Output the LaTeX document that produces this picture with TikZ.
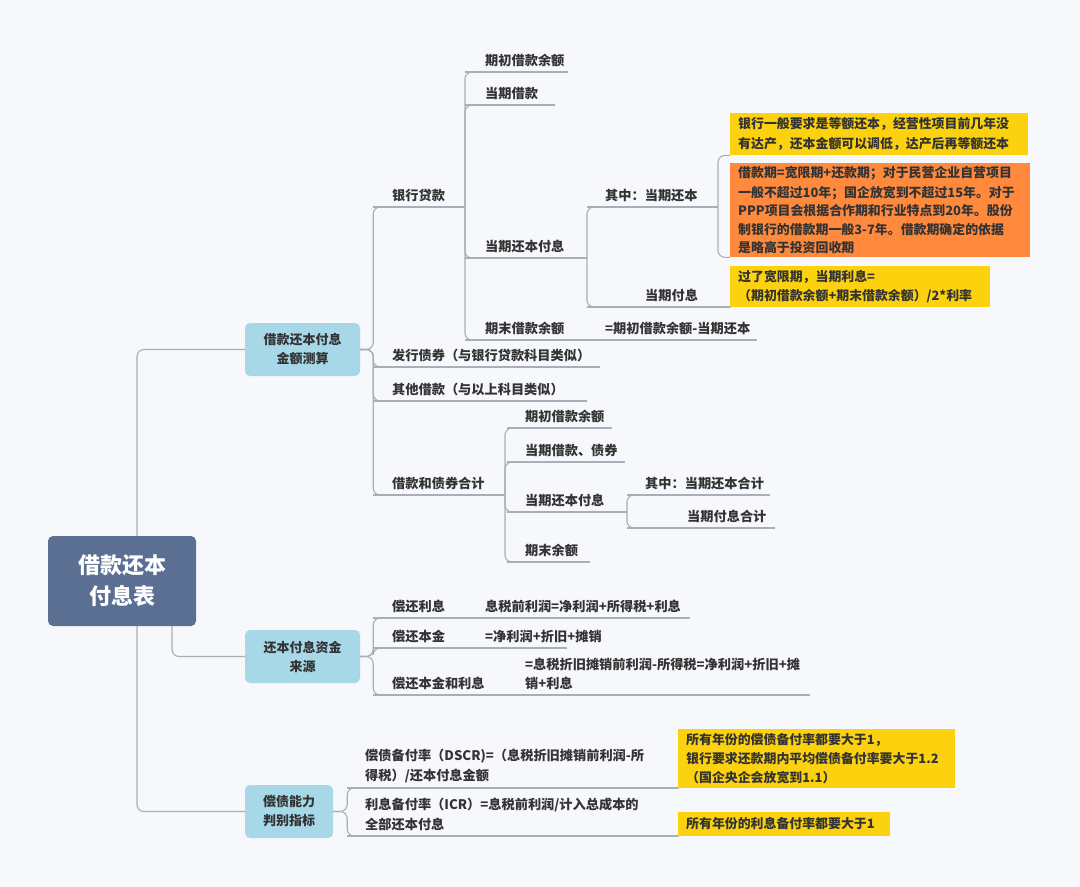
\documentclass[tikz,border=0pt]{standalone}
\usepackage{fontspec}
\setmainfont{Noto Sans CJK SC}
\usetikzlibrary{calc}
\definecolor{bg}{HTML}{F6F8FC}
\definecolor{ln}{HTML}{A8AFB8}
\definecolor{tx}{HTML}{333333}
\definecolor{rootc}{HTML}{5B6F92}
\definecolor{lb}{HTML}{A6D8E8}
\definecolor{yl}{HTML}{FCD20F}
\definecolor{og}{HTML}{FF8A3D}
\tikzset{
  lnk/.style={draw=ln,line width=1.1pt,rounded corners=7pt},
  lbl/.style={anchor=south west,inner sep=0pt,text=tx,font=\fontsize{13.2}{19.5}\selectfont\bfseries,align=left},
  mainbox/.style={fill=lb,rounded corners=5pt,text=tx,font=\fontsize{13}{19}\selectfont\bfseries,align=center,inner sep=0pt},
  note/.style={anchor=north west,inner xsep=8pt,inner ysep=0pt,text=tx,font=\fontsize{12.9}{18.6}\selectfont\bfseries,align=left},
}
\newcommand\tp[6]{%
  \coordinate (#1s) at (#2,#4); \coordinate (#1e) at (#3,#4);
  \draw[lnk] (#1s) -- (#1e);
  \node[lbl] (#1) at (#5,#4-5) {#6};}
\begin{document}
\begin{tikzpicture}[x=1pt,y=-1pt]
\fill[bg] (0,0) rectangle (1080,887);
\useasboundingbox (0,0) rectangle (1080,887);
% root and main boxes
\node[fill=rootc,rounded corners=5pt,minimum width=148pt,minimum height=90pt,text=white,font=\fontsize{22}{31}\selectfont\bfseries,align=center] (root) at (122,581) {借款还本\\付息表};
\node[mainbox,minimum width=115pt,minimum height=53pt] (m1) at (302.5,349.5) {借款还本付息\\金额测算};
\node[mainbox,minimum width=115pt,minimum height=53pt] (m2) at (302.5,656.5) {还本付息资金\\来源};
\node[mainbox,minimum width=88pt,minimum height=53pt] (m3) at (289,811.5) {偿债能力\\判别指标};
\coordinate (rt) at (137,536); \coordinate (rb) at (137,626); \coordinate (rb2) at (172,626);
\draw[lnk] (rt) |- (m1.west);
\draw[lnk] (rb) |- (m3.west);
\draw[lnk] (rb2) |- (m2.west);
% level 2 under m1
\tp{yhdk}{373}{465}{207}{392}{银行贷款}
\tp{fxzq}{373}{600}{367}{392}{发行债券（与银行贷款科目类似）}
\tp{qtjk}{373}{587}{401}{392}{其他借款（与以上科目类似）}
\tp{hj}{373}{505}{495}{392}{借款和债券合计}
\foreach \c in {yhdk,fxzq,qtjk,hj}{\draw[lnk] (m1.east) -- ++(13,0) |- ($(\c s)+(14,0)$);}
% bank loan
\tp{aa}{465}{568}{72}{485}{期初借款余额}
\tp{ab}{465}{555}{105}{485}{当期借款}
\tp{ac}{465}{587}{258}{485}{当期还本付息}
\tp{ad}{465}{590}{340}{485}{期末借款余额}
\tp{adf}{590}{757}{340}{605}{=期初借款余额-当期还本}
\foreach \c in {aa,ab,ac,ad}{\draw[lnk] (yhdke) |- ($(\c s)+(14,0)$);}
\tp{ba}{587}{718}{207}{605}{其中：当期还本}
\tp{bb}{587}{730}{307}{645}{当期付息}
\foreach \c in {ba,bb}{\draw[lnk] (ace) |- ($(\c s)+(14,0)$);}
% notes
\node[note,fill=yl,minimum width=298pt,minimum height=42pt,text width=282pt] (g1) at (730,113) {\vspace{1pt}银行一般要求是等额还本，经营性项目前几年没\\有达产，还本金额可以调低，达产后再等额还本};
\node[note,fill=og,minimum width=300pt,minimum height=94pt,text width=284pt] (g2) at (730,163) {\vspace{1pt}借款期=宽限期+还款期；对于民营企业自营项目\\一般不超过10年；国企放宽到不超过15年。对于\\PPP项目会根据合作期和行业特点到20年。股份\\制银行的借款期一般3-7年。借款期确定的依据\\是略高于投资回收期};
\node[note,fill=yl,minimum width=260pt,minimum height=41pt,text width=244pt] (g3) at (730,266) {\vspace{1pt}过了宽限期，当期利息=\\（期初借款余额+期末借款余额）/2*利率};
\draw[lnk] (bae) |- (g1.south west);
\draw[lnk] (bae) |- (g2.south west);
\draw[lnk] (bbe) -- (g3.south west);
% totals
\tp{ca}{507}{612}{428}{525}{期初借款余额}
\tp{cb}{507}{625}{462}{525}{当期借款、债券}
\tp{cc}{507}{627}{512}{525}{当期还本付息}
\tp{cd}{507}{590}{562}{525}{期末余额}
\foreach \c in {ca,cb,cc,cd}{\draw[lnk] (hje) |- ($(\c s)+(14,0)$);}
\tp{da}{627}{770}{495}{645}{其中：当期还本合计}
\tp{db}{627}{775}{528}{687}{当期付息合计}
\foreach \c in {da,db}{\draw[lnk] (cce) |- ($(\c s)+(14,0)$);}
% sources
\tp{ea}{373}{470}{618}{392}{偿还利息}
\tp{eaf}{470}{690}{618}{485}{息税前利润=净利润+所得税+利息}
\tp{eb}{373}{470}{648}{392}{偿还本金}
\tp{ebf}{470}{567}{648}{485}{=净利润+折旧+摊销}
\tp{ec}{373}{500}{695}{392}{偿还本金和利息}
\tp{ecf}{500}{810}{695}{525}{=息税折旧摊销前利润-所得税=净利润+折旧+摊\\销+利息}
\foreach \c in {ea,eb,ec}{\draw[lnk] (m2.east) -- ++(13,0) |- ($(\c s)+(14,0)$);}
% indicators
\tp{fa}{347}{678}{788}{365}{偿债备付率（DSCR)=（息税折旧摊销前利润-所\\得税）/还本付息金额}
\tp{fb}{347}{678}{836}{365}{利息备付率（ICR）=息税前利润/计入总成本的\\全部还本付息}
\foreach \c in {fa,fb}{\draw[lnk] (m3.east) -- ++(14,0) |- ($(\c s)+(14,0)$);}
\node[note,fill=yl,minimum width=277pt,minimum height=59pt,text width=261pt] (g4) at (678,729) {\vspace{0pt}所有年份的偿债备付率都要大于1，\\银行要求还款期内平均偿债备付率要大于1.2\\（国企央企会放宽到1.1）};
\node[note,fill=yl,minimum width=212pt,minimum height=24pt,text width=196pt] (g5) at (678,812) {\vspace{1pt}所有年份的利息备付率都要大于1};
\draw[lnk] (fae) -- (g4.south west);
\draw[lnk] (fbe) -- (g5.south west);
\end{tikzpicture}
\end{document}
